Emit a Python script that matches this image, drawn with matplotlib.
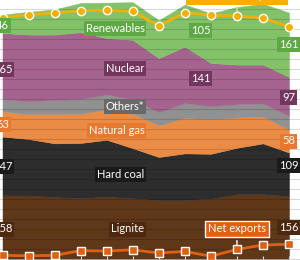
import numpy as np
import matplotlib.pyplot as plt

plt.rcParams['font.family'] = ['Lato', 'DejaVu Sans']

# Bruttostromerzeugung (TWh), 2003-2014
years = np.arange(2003, 2015)
lignite = [158, 158, 154, 151, 155, 151, 146, 146, 150, 161, 161, 156]
hard_coal = [147, 141, 134, 138, 142, 125, 108, 117, 112, 116, 127, 109]
gas = [63, 62, 73, 73, 76, 87, 79, 89, 86, 76, 67, 58]
others = [31, 32, 36, 37, 37, 35, 33, 37, 33, 33, 33, 34]
nuclear = [165, 167, 163, 167, 141, 149, 135, 141, 108, 99, 97, 97]
renewables = [46, 57, 63, 73, 89, 94, 95, 105, 124, 144, 152, 161]
consumption = [602, 610, 614, 620, 621, 618, 582, 615, 608, 607, 601, 580]
net_exports = [8, 7, 8, 20, 19, 22, 14, 18, 6, 23, 34, 36]

names = ['Lignite', 'Hard coal', 'Natural gas', 'Others*', 'Nuclear', 'Renewables']
series = [lignite, hard_coal, gas, others, nuclear, renewables]
fills = ['#5f3719', '#2d2d2d', '#eb8c46', '#919191', '#a5648f', '#84c26a']
boxes = ['#4b280f', '#1a1a1a', '#e8782d', '#696969', '#73375f', '#5ea845']

x = np.arange(len(years))

fig = plt.figure(figsize=(3.0, 2.6), dpi=100)
ax = fig.add_axes([0, 0, 1, 1])

bottom = np.zeros(len(x))
mids = []
for vals, fc in zip(series, fills):
    top = bottom + np.array(vals)
    ax.fill_between(x, bottom, top, color=fc, lw=0.3, zorder=1)
    mids.append((bottom + top) / 2)
    bottom = top

ax.plot(x, consumption, color='#f5b000', lw=2, marker='o', ms=6,
        mfc='#f5b000', mec='white', mew=1, zorder=5)
ax.plot(x, net_exports, color='#e0600f', lw=2, marker='s', ms=5.5,
        mfc='#e0600f', mec='white', mew=1, zorder=5)

def box(xx, yy, s, c, ha='center'):
    ax.text(xx, yy, s, ha=ha, va='center', color='white', fontsize=8, zorder=6,
            bbox=dict(boxstyle='square,pad=0.18', fc=c, ec='none'))

# series names, right aligned around 2008/09
name_y = [74, 211, 321, 381, 474, 574]
for n, yy, c in zip(names, name_y, boxes):
    box(5.45, yy, n, c, ha='right')

# start and end values
left_y = [mids[0][0] - 5, mids[1][0], mids[2][0], None, mids[4][0] - 10, mids[5][0] - 5]
right_y = [mids[0][-1], mids[1][-1] + 23, mids[2][-1], None, mids[4][-1] - 4, mids[5][-1]]
for i, c in enumerate(boxes):
    if left_y[i] is None:
        continue
    box(0, left_y[i], str(series[i][0]), c)
    box(10.98, right_y[i], str(series[i][-1]), c)

# 2010 values
box(7.6, 569, str(renewables[7]), boxes[5])
box(7.6, 449, str(nuclear[7]), boxes[4])

ax.annotate('Net exports', xy=(9, net_exports[9]), xytext=(9, 74),
            ha='center', va='center', color='white', fontsize=8, zorder=7,
            bbox=dict(boxstyle='square,pad=0.25', fc='#e0600f', ec='white', lw=1),
            arrowprops=dict(arrowstyle='-', color='white', lw=1, shrinkB=3))
ax.annotate('Gross consumption', xy=(9, consumption[9]), xytext=(9, 657),
            ha='center', va='center', color='white', fontsize=8, zorder=7,
            bbox=dict(boxstyle='square,pad=0.3', fc='#f5b000', ec='none'),
            arrowprops=dict(arrowstyle='-', color='#d8d8d8', lw=1, shrinkB=3))

ax.set_xlim(-0.096, 11.42)
ax.set_ylim(-3.5, 646.5)
ax.set_yticks(np.arange(0, 650, 25))
ax.yaxis.grid(True, color='k', alpha=0.15, lw=0.8)
ax.set_axisbelow(False)
ax.set_xticks(x)
ax.tick_params(axis='y', length=0, labelleft=False)
ax.tick_params(axis='x', direction='in', length=3, color='#dddddd',
               labelbottom=False)
for s in ax.spines.values():
    s.set_visible(False)

fig.savefig('out.png', dpi=100)
